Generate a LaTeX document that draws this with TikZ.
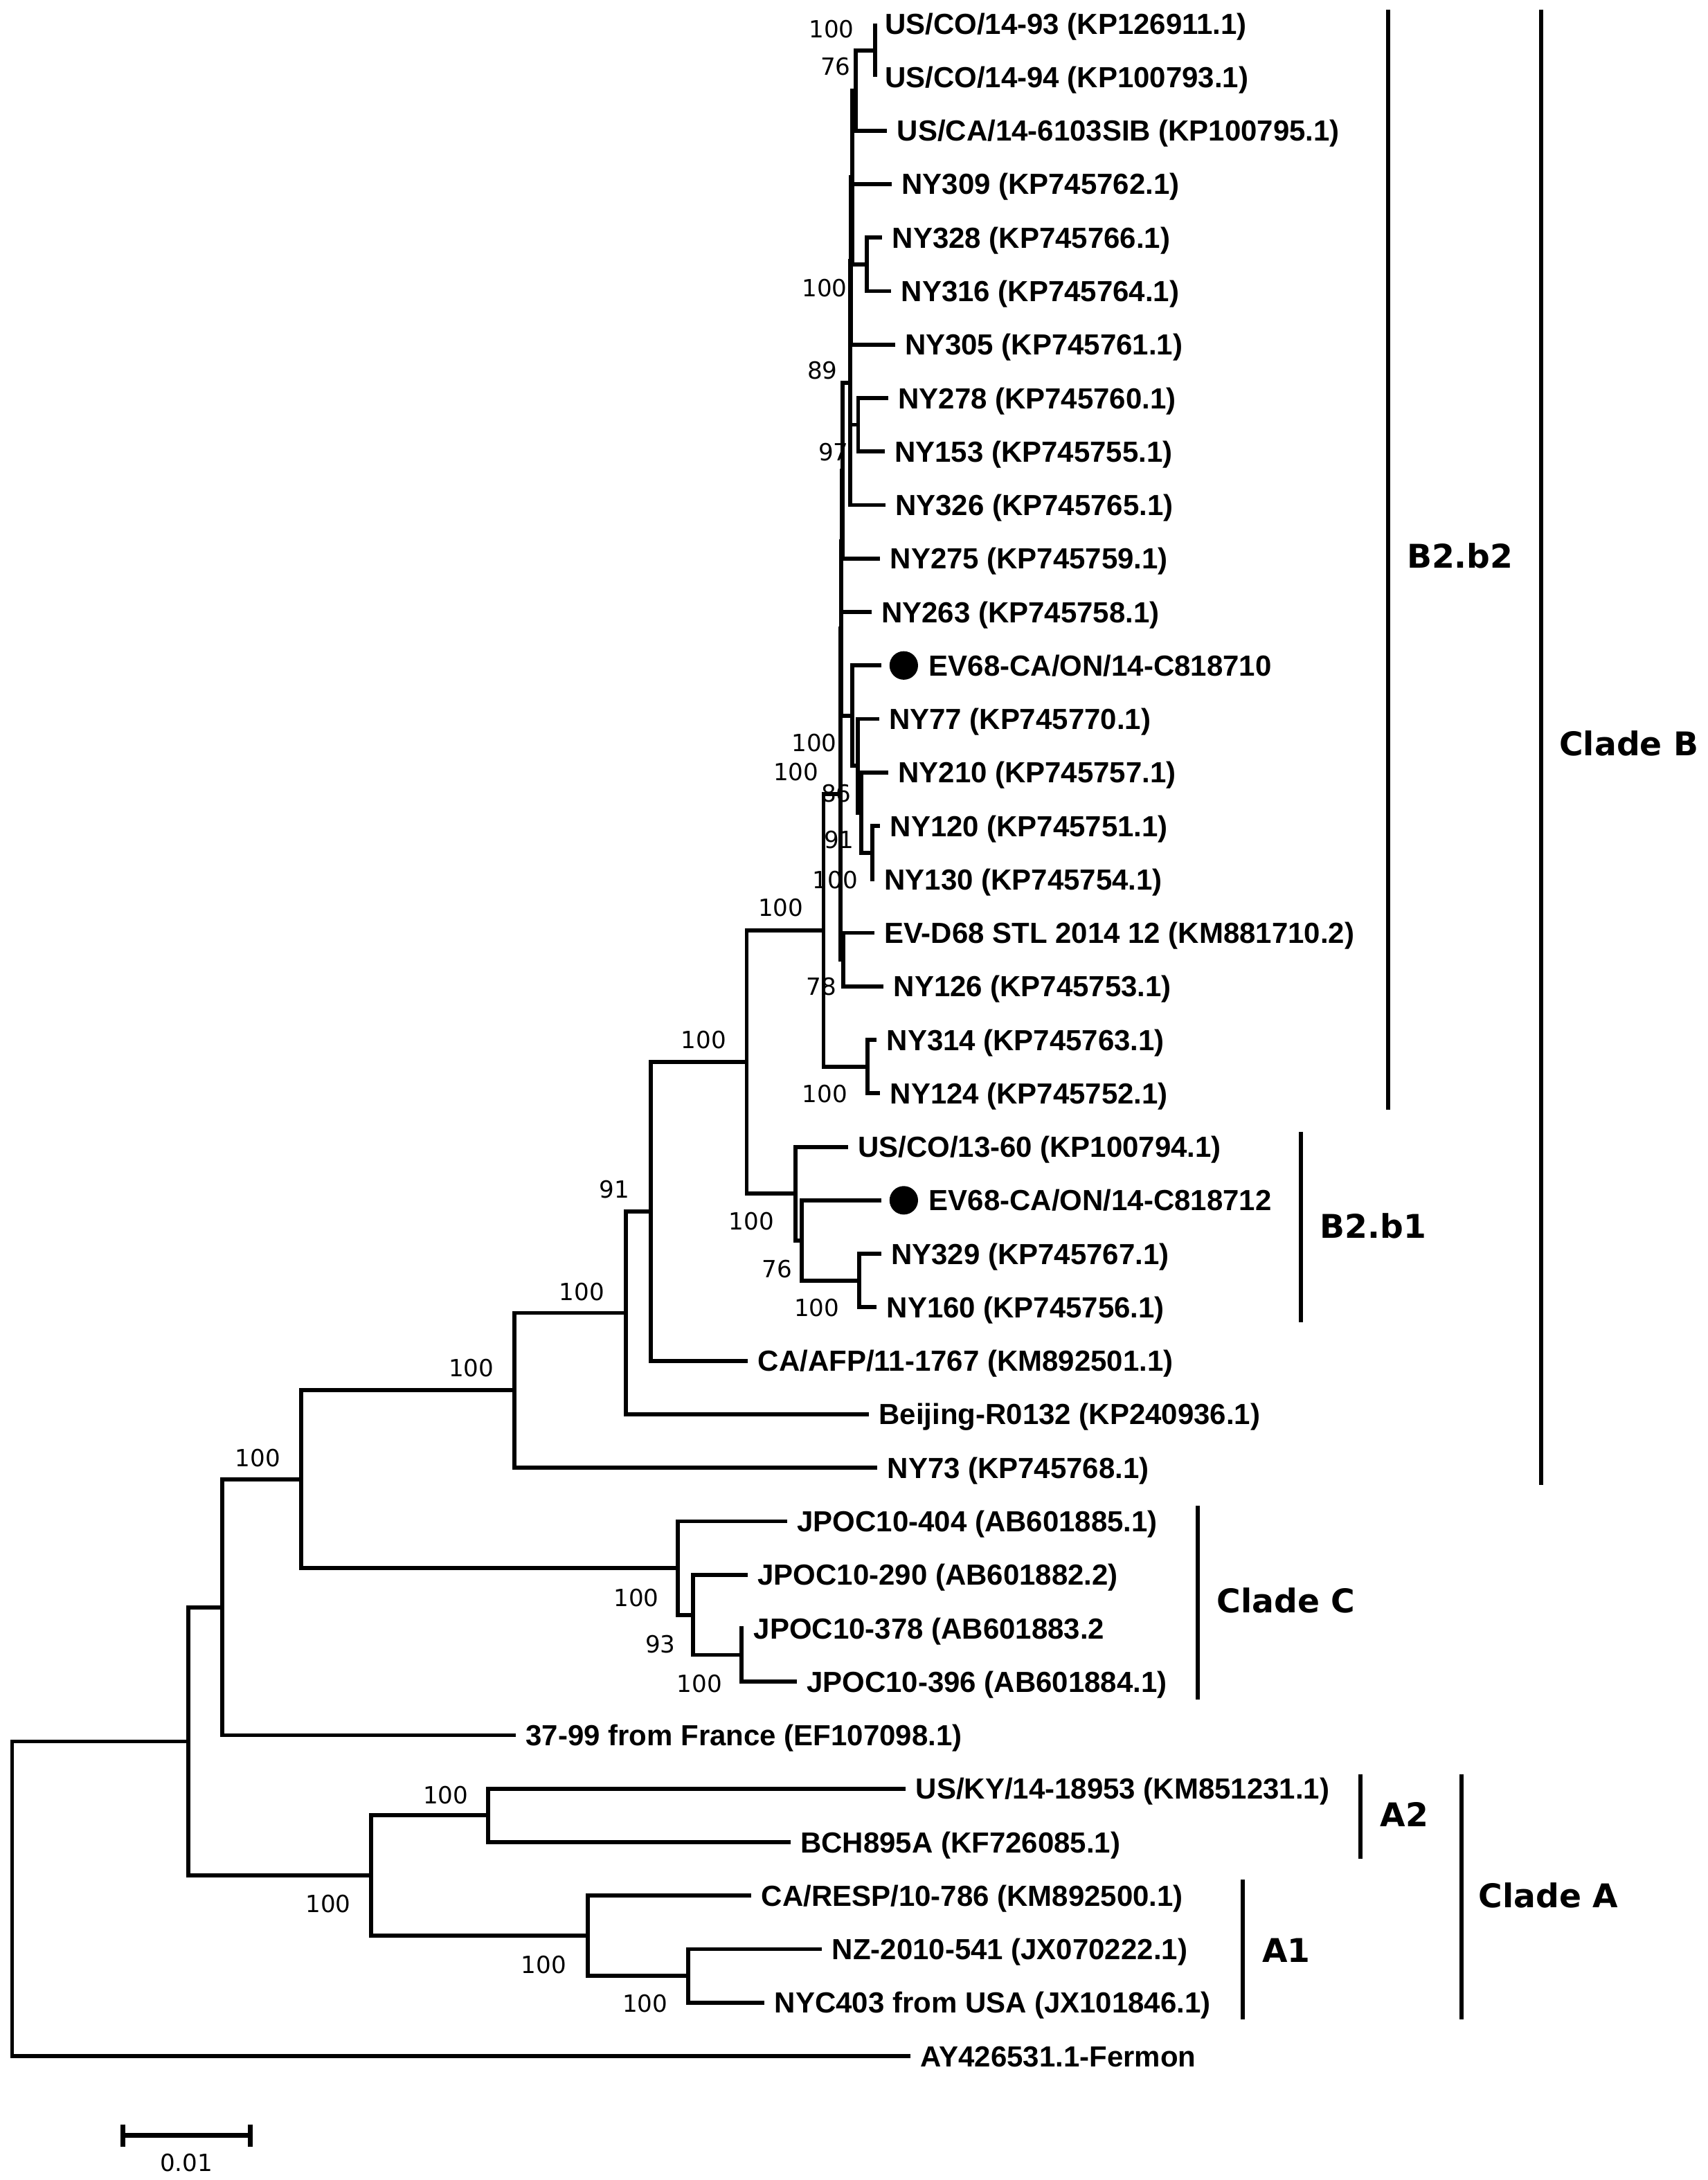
\documentclass[tikz,border=0pt]{standalone}
\usepackage{fontspec}
\newfontfamily\taxonfont{Liberation Sans}
\newfontfamily\bootfont{DejaVu Sans}
\tikzset{
  branch/.style={line width=2.9pt},
  taxon/.style={anchor=west,inner xsep=7pt,inner ysep=0pt,text height=15pt,text depth=0pt,
    font=\taxonfont\bfseries\fontsize{20.9}{24}\selectfont},
  boot/.style={inner sep=0pt,text height=12.4pt,text depth=0pt,font=\bootfont\fontsize{17}{20}\selectfont},
  dot/.style={circle,fill,minimum size=20.5pt,inner sep=0pt,outer sep=6pt},
  bar/.style={line width=3pt},
  cladename/.style={inner sep=0pt,text height=17.1pt,text depth=0pt,
    font=\bootfont\bfseries\fontsize{23.5}{28}\selectfont}
}
\begin{document}
\begin{tikzpicture}[x=1pt,y=-1pt]
\useasboundingbox (0,0) rectangle (1228,1568);

% taxa, one row each
\node[taxon] (l1) at (629.3,17) {US/CO/14-93 (KP126911.1)};
\node[taxon] (l2) at (629.3,55.47) {US/CO/14-94 (KP100793.1)};
\node[taxon] (l3) at (638,93.94) {US/CA/14-6103SIB (KP100795.1)};
\node[taxon] (l4) at (641.3,132.41) {NY309 (KP745762.1)};
\node[taxon] (l5) at (634.6,170.88) {NY328 (KP745766.1)};
\node[taxon] (l6) at (641,209.35) {NY316 (KP745764.1)};
\node[taxon] (l7) at (643.6,247.82) {NY305 (KP745761.1)};
\node[taxon] (l8) at (638.8,286.29) {NY278 (KP745760.1)};
\node[taxon] (l9) at (636.3,324.76) {NY153 (KP745755.1)};
\node[taxon] (l10) at (636.8,363.23) {NY326 (KP745765.1)};
\node[taxon] (l11) at (633,401.7) {NY275 (KP745759.1)};
\node[taxon] (l12) at (626.8,440.17) {NY263 (KP745758.1)};
\node[dot] (d13) at (650,478.64) {};
\node[taxon] (l13) at (661,478.64) {EV68-CA/ON/14-C818710};
\node[taxon] (l14) at (632.2,517.11) {NY77 (KP745770.1)};
\node[taxon] (l15) at (638.8,555.58) {NY210 (KP745757.1)};
\node[taxon] (l16) at (633,594.05) {NY120 (KP745751.1)};
\node[taxon] (l17) at (629,632.52) {NY130 (KP745754.1)};
\node[taxon] (l18) at (628.8,670.99) {EV-D68 STL 2014 12 (KM881710.2)};
\node[taxon] (l19) at (635.5,709.46) {NY126 (KP745753.1)};
\node[taxon] (l20) at (630.5,747.93) {NY314 (KP745763.1)};
\node[taxon] (l21) at (633,786.4) {NY124 (KP745752.1)};
\node[taxon] (l22) at (609.8,824.87) {US/CO/13-60 (KP100794.1)};
\node[dot] (d23) at (650,863.34) {};
\node[taxon] (l23) at (661,863.34) {EV68-CA/ON/14-C818712};
\node[taxon] (l24) at (633.7,901.81) {NY329 (KP745767.1)};
\node[taxon] (l25) at (630.5,940.28) {NY160 (KP745756.1)};
\node[taxon] (l26) at (538,978.75) {CA/AFP/11-1767 (KM892501.1)};
\node[taxon] (l27) at (625,1017.22) {Beijing-R0132 (KP240936.1)};
\node[taxon] (l28) at (631,1055.69) {NY73 (KP745768.1)};
\node[taxon] (l29) at (566.2,1094.16) {JPOC10-404 (AB601885.1)};
\node[taxon] (l30) at (537.8,1132.63) {JPOC10-290 (AB601882.2)};
\node[taxon] (l31) at (535,1171.1) {JPOC10-378 (AB601883.2};
\node[taxon] (l32) at (573,1209.57) {JPOC10-396 (AB601884.1)};
\node[taxon] (l33) at (371,1248.04) {37-99 from France (EF107098.1)};
\node[taxon] (l34) at (651.5,1286.51) {US/KY/14-18953 (KM851231.1)};
\node[taxon] (l35) at (568.6,1324.98) {BCH895A (KF726085.1)};
\node[taxon] (l36) at (540.5,1363.45) {CA/RESP/10-786 (KM892500.1)};
\node[taxon] (l37) at (591.2,1401.92) {NZ-2010-541 (JX070222.1)};
\node[taxon] (l38) at (549.9,1440.39) {NYC403 from USA (JX101846.1)};
\node[taxon] (l39) at (655,1478.86) {AY426531.1-Fermon};

% inner nodes
\coordinate (root) at (8.7,1365.7);
\coordinate (nA) at (135.5,1252.5);
\coordinate (nB) at (160,1156);
\coordinate (nC) at (216.6,1063.9);
\coordinate (nD) at (370,1000);
\coordinate (nE) at (450,944.3);
\coordinate (nF) at (468,871.3);
\coordinate (nG) at (537,763.8);
\coordinate (nH) at (592.3,669.1);
\coordinate (nI) at (604.3,571.1);
\coordinate (nY) at (604.8,452.05);
\coordinate (nZ) at (605.2,389.4);
\coordinate (nL) at (605.8,338.6);
\coordinate (nK) at (611.4,275.47);
\coordinate (nK1) at (611.8,187.71);
\coordinate (nM) at (613,127.6);
\coordinate (nJ) at (615.6,65.09);
\coordinate (n12) at (629.3,36.24);
\coordinate (n56) at (623.5,190.12);
\coordinate (n89) at (617.2,305.5);
\coordinate (nX) at (613,514.7);
\coordinate (nW) at (617,550.8);
\coordinate (nV) at (619.5,584.4);
\coordinate (nU) at (627.5,613.3);
\coordinate (nS) at (606.4,690.2);
\coordinate (n2021) at (624,767.2);
\coordinate (b1) at (572,858.5);
\coordinate (b1b) at (576.5,892.2);
\coordinate (n2425) at (618,921);
\coordinate (cC) at (487.5,1127.8);
\coordinate (cC2) at (498.4,1161.5);
\coordinate (cC3) at (533.2,1190.3);
\coordinate (cA) at (267,1349);
\coordinate (a2) at (351,1305.7);
\coordinate (a1) at (422.6,1392.3);
\coordinate (a1b) at (495,1421.2);

% branches
\draw[branch] (root) |- (nA) (root) |- (l39.west);
\draw[branch] (nA) |- (nB) (nA) |- (cA);
\draw[branch] (nB) |- (nC) (nB) |- (l33.west);
\draw[branch] (nC) |- (nD) (nC) |- (cC);
\draw[branch] (nD) |- (nE) (nD) |- (l28.west);
\draw[branch] (nE) |- (nF) (nE) |- (l27.west);
\draw[branch] (nF) |- (nG) (nF) |- (l26.west);
\draw[branch] (nG) |- (nH) (nG) |- (b1);
\draw[branch] (nH) |- (nI) (nH) |- (n2021);
\draw[branch] (n2021) |- (l20.west) (n2021) |- (l21.west);
\draw[branch] (nI) |- (nY) (nI) |- (nS);
\draw[branch] (nS) |- (l18.west) (nS) |- (l19.west);
\draw[branch] (nY) |- (nZ) (nY) |- (nX);
\draw[branch] (nZ) |- (nL) (nZ) |- (l12.west);
\draw[branch] (nL) |- (nK) (nL) |- (l11.west);
\draw[branch] (nK) |- (nK1) (nK) |- (n89) (nK) |- (l10.west);
\draw[branch] (n89) |- (l8.west) (n89) |- (l9.west);
\draw[branch] (nK1) |- (nM) (nK1) |- (l7.west);
\draw[branch] (nM) |- (nJ) (nM) |- (l4.west) (nM) |- (n56);
\draw[branch] (n56) |- (l5.west) (n56) |- (l6.west);
\draw[branch] (nJ) |- (n12) (nJ) |- (l3.west);
\draw[branch] (n12) |- (l1.west) (n12) |- (l2.west);
\draw[branch] (nX) |- (d13.west) (nX) |- (nW);
\draw[branch] (nW) |- (l14.west) (nW) |- (nV);
\draw[branch] (nV) |- (l15.west) (nV) |- (nU);
\draw[branch] (nU) |- (l16.west) (nU) |- (l17.west);
\draw[branch] (b1) |- (l22.west) (b1) |- (b1b);
\draw[branch] (b1b) |- (d23.west) (b1b) |- (n2425);
\draw[branch] (n2425) |- (l24.west) (n2425) |- (l25.west);
\draw[branch] (cC) |- (l29.west) (cC) |- (cC2);
\draw[branch] (cC2) |- (l30.west) (cC2) |- (cC3);
\draw[branch] (cC3) |- (l31.west) (cC3) |- (l32.west);
\draw[branch] (cA) |- (a2) (cA) |- (a1);
\draw[branch] (a2) |- (l34.west) (a2) |- (l35.west);
\draw[branch] (a1) |- (l36.west) (a1) |- (a1b);
\draw[branch] (a1b) |- (l37.west) (a1b) |- (l38.west);

% bootstrap values
\node[boot] (bs12) at (598,21) {100};
\node[boot] (bsJ) at (601,48) {76};
\node[boot] (bs56) at (593,207.4) {100};
\node[boot] (bsK) at (591.5,266.6) {89};
\node[boot] (bsL) at (599.4,325.2) {97};
\node[boot] (bsX) at (585.5,534.5) {100};
\node[boot] (bsI) at (572.5,555) {100};
\node[boot] (bsW) at (601.5,570.7) {86};
\node[boot] (bsV) at (603.4,604.2) {91};
\node[boot] (bsU) at (600.6,632.7) {100};
\node[boot] (bsH) at (561.5,653) {100};
\node[boot] (bsS) at (590.7,709.8) {78};
\node[boot] (bs2021) at (593.2,786.8) {100};
\node[boot] (bsG) at (506,748) {100};
\node[boot] (bsb1) at (540.4,878.5) {100};
\node[boot] (bsb1b) at (559,912.5) {76};
\node[boot] (bs2425) at (587.4,940.8) {100};
\node[boot] (bsF) at (442,855.5) {91};
\node[boot] (bsE) at (418.5,929) {100};
\node[boot] (bsD) at (339,984) {100};
\node[boot] (bsC) at (185.5,1048.5) {100};
\node[boot] (bscC) at (457.6,1149) {100};
\node[boot] (bscC2) at (475,1182.6) {93};
\node[boot] (bscC3) at (503,1211) {100};
\node[boot] (bsa2) at (320.6,1291) {100};
\node[boot] (bscA) at (236,1369.5) {100};
\node[boot] (bsa1) at (391,1413) {100};
\node[boot] (bsa1b) at (464,1441) {100};

% clade bars
\draw[bar] (998.2,7) -- (998.2,798);
\node[cladename] (b2b2) at (1050,400) {B2.b2};
\draw[bar] (1108.5,7) -- (1108.5,1068);
\node[cladename] (cladeB) at (1171.5,535) {Clade B};
\draw[bar] (935.5,814) -- (935.5,951);
\node[cladename] (b2b1) at (987.5,882) {B2.b1};
\draw[bar] (861.5,1083) -- (861.5,1222.5);
\node[cladename] (cladeC) at (925,1151.5) {Clade C};
\draw[bar] (978.3,1276) -- (978.3,1337);
\node[cladename] (A2) at (1010,1305.2) {A2};
\draw[bar] (1050.9,1276) -- (1050.9,1452.4);
\node[cladename] (cladeA) at (1113.7,1363.5) {Clade A};
\draw[bar] (894,1352) -- (894,1452.4);
\node[cladename] (A1) at (925,1403) {A1};

% scale
\coordinate (s0) at (88.4,1536);
\coordinate (s1) at (180,1536);
\draw[line width=3.5pt] (s0) -- (s1) (s0) ++(0,-8) -- ++(0,16) (s1) ++(0,-8) -- ++(0,16);
\node[boot] (scale) at (134,1555.5) {0.01};
\end{tikzpicture}
\end{document}
